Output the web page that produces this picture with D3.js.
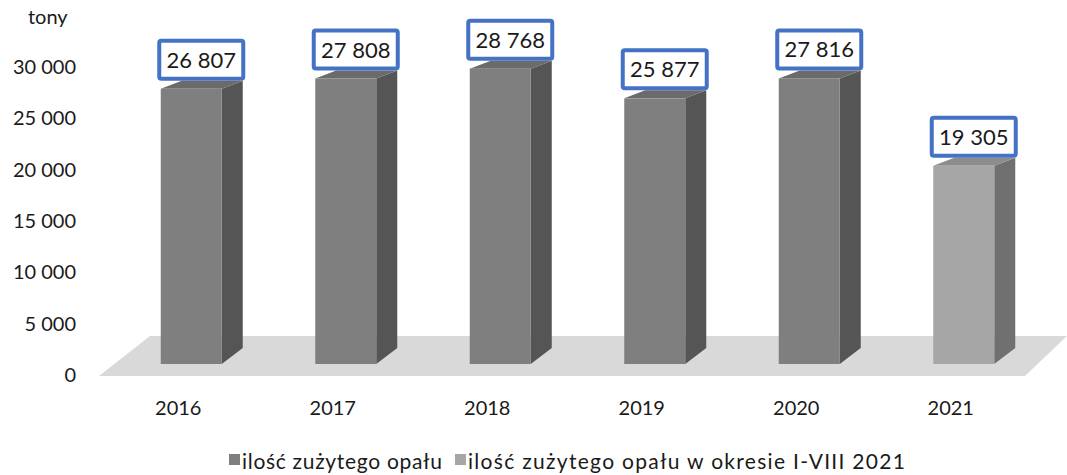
<!DOCTYPE html>
<html>
<head>
<meta charset="utf-8">
<script src="https://cdn.jsdelivr.net/npm/d3@7"></script>
<style>
	body { margin: 0; background: #fff; }
	text { font-family: Lato, "Open Sans", sans-serif; fill: #1a1a1a; }
</style>
</head>
<body>
<script>
// chart data
var years = ["2016", "2017", "2018", "2019", "2020", "2021"];
var values = [26807, 27808, 28768, 25877, 27816, 19305];
var series = [0, 0, 0, 0, 0, 1]; // 0 = full year, 1 = I-VIII 2021
var seriesNames = ["ilość zużytego opału", "ilość zużytego opału w okresie I-VIII 2021"];
var yTicks = [0, 5000, 10000, 15000, 20000, 25000, 30000];

var w = 1067, h = 475;
var depth_x = 21, depth_top = 8, depth_bottom = 16, base_shift = 11;
var front_colors = ["#7f7f7f", "#a6a6a6"],
	side_colors = ["#555555", "#707070"],
	top_colors = ["#6b6b6b", "#8c8c8c"];

var svg = d3.select("body").append("svg")
	.attr("width", w)
	.attr("height", h);

var x = d3.scaleBand().domain(years).range([101, 1028]).paddingInner(0).paddingOuter(0);
var y = d3.scaleLinear().domain([0, 30000]).range([375, 67]);

function fmt(v) {
	return d3.format(",")(v).replace(/,/g, " ");
}

// floor
var floor_front = y(0) + 1, floor_back = y(0) - 39;
svg.append("path")
	.attr("d", "M99 " + floor_front + " L150 " + floor_back + " L1067 " + floor_back + " L1025 " + floor_front + " Z")
	.attr("fill", "#d9d9d9");

// y axis labels
svg.append("text").attr("x", 28).attr("y", 24).style("font-size", "20px").text("tony");
svg.selectAll(".ytick").data(yTicks).enter().append("text")
	.attr("class", "ytick")
	.attr("x", 76)
	.attr("y", function(d) { return y(d) + 7; })
	.attr("text-anchor", "end")
	.style("font-size", "20px")
	.text(fmt);

// bars
var bw = 61;
var bars = svg.selectAll(".bar").data(years).enter().append("g").attr("class", "bar");
bars.each(function(d, i) {
	var g = d3.select(this);
	var x0 = x(d) + x.bandwidth() / 2 + 13 - bw / 2, x1 = x0 + bw;
	var yb = y(0) - base_shift, yt = y(values[i]) - base_shift;
	var s = series[i];
	g.append("path")
		.attr("d", "M" + x1 + " " + yt + " L" + (x1 + depth_x) + " " + (yt - depth_top) + " L" + (x1 + depth_x) + " " + (yb - depth_bottom) + " L" + x1 + " " + yb + " Z")
		.attr("fill", side_colors[s]);
	g.append("path")
		.attr("d", "M" + x0 + " " + yt + " L" + (x0 + depth_x) + " " + (yt - depth_top) + " L" + (x1 + depth_x) + " " + (yt - depth_top) + " L" + x1 + " " + yt + " Z")
		.attr("fill", top_colors[s]);
	g.append("rect")
		.attr("x", x0).attr("y", yt)
		.attr("width", bw).attr("height", yb - yt)
		.attr("fill", front_colors[s]);

	// value label box
	var cx = x0 + bw / 2 + 10;
	g.append("rect")
		.attr("x", cx - 42).attr("y", yt - 48)
		.attr("width", 84).attr("height", 38)
		.attr("rx", 2)
		.attr("fill", "#fff")
		.attr("stroke", "#4472c4")
		.attr("stroke-width", 4);
	g.append("text")
		.attr("x", cx).attr("y", yt - 21)
		.attr("text-anchor", "middle")
		.style("font-size", "22px")
		.text(fmt(values[i]));
});

// x labels
svg.selectAll(".xlab").data(years).enter().append("text")
	.attr("class", "xlab")
	.attr("x", function(d) { return x(d) + x.bandwidth() / 2; })
	.attr("y", 415)
	.attr("text-anchor", "middle")
	.style("font-size", "20px")
	.text(function(d) { return d; });

// legend
var legend_x = [229, 455], legend_len = [200, 437];
seriesNames.forEach(function(name, i) {
	svg.append("rect")
		.attr("x", legend_x[i]).attr("y", 454)
		.attr("width", 11).attr("height", 11)
		.attr("fill", front_colors[i]);
	svg.append("text")
		.attr("x", legend_x[i] + 13).attr("y", 469)
		.attr("textLength", legend_len[i])
		.attr("lengthAdjust", "spacing")
		.style("font-size", "21px")
		.text(name);
});
</script>
</body>
</html>
